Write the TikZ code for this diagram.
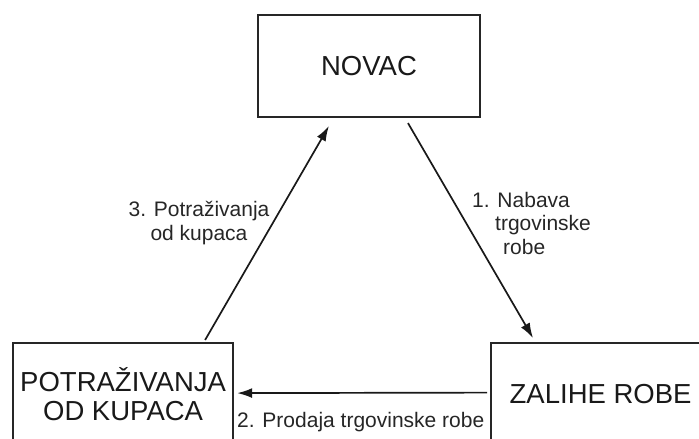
\documentclass[tikz,border=0pt]{standalone}
\usepackage{fontspec}
\setmainfont{Liberation Sans}
\usetikzlibrary{arrows.meta,calc,positioning}

\tikzset{
  box/.style={draw=black!85,line width=2.2pt,inner sep=0pt,align=center,
    font=\fontsize{27.5}{29}\selectfont,text=black!90},
  arr/.style={-{Latex[length=15pt,width=10pt]},line width=1.7pt,draw=black!90},
  lbl/.style={inner sep=0pt,font=\fontsize{21}{23.5}\selectfont,text=black!85}
}

\begin{document}
\begin{tikzpicture}[x=1pt,y=-1pt]
\useasboundingbox (0,0) rectangle (699,439);
\clip (0,0) rectangle (699,439);

% the three stations
\node[box,minimum width=222pt,minimum height=102pt] (novac) at (369,66) {NOVAC};
\node[box,anchor=north west,minimum width=220pt,minimum height=102pt] (potr) at (12,342)
  {POTRAŽIVANJA\\OD KUPACA};
\node[box,anchor=north west,minimum width=219pt,minimum height=101pt] (zalihe) at (490,342)
  {ZALIHE ROBE};

% the cycle
\draw[arr] ($(novac.south)+(39,5)$) -- ($(zalihe.north west)+(43,-4)$);
\draw[arr] ($(zalihe.west)+(-3,-1)$) -- ($(potr.east)+(3,-1)$);
\draw[arr] ($(potr.north)+(82,-2)$) -- ($(novac.south west)+(72,8)$);

% labels
\node[lbl,anchor=north west,align=left] (lblbuy) at (472,192)
  {1. Nabava\\\hspace*{23pt}trgovinske\\\hspace*{31pt}robe};
\node[lbl,anchor=base west] (lblsale) at (237,427) {2. Prodaja trgovinske robe};
\node[lbl,anchor=north,align=center] (lblclaim) at (199,201.5)
  {3. Potraživanja\\od kupaca};

\end{tikzpicture}
\end{document}
